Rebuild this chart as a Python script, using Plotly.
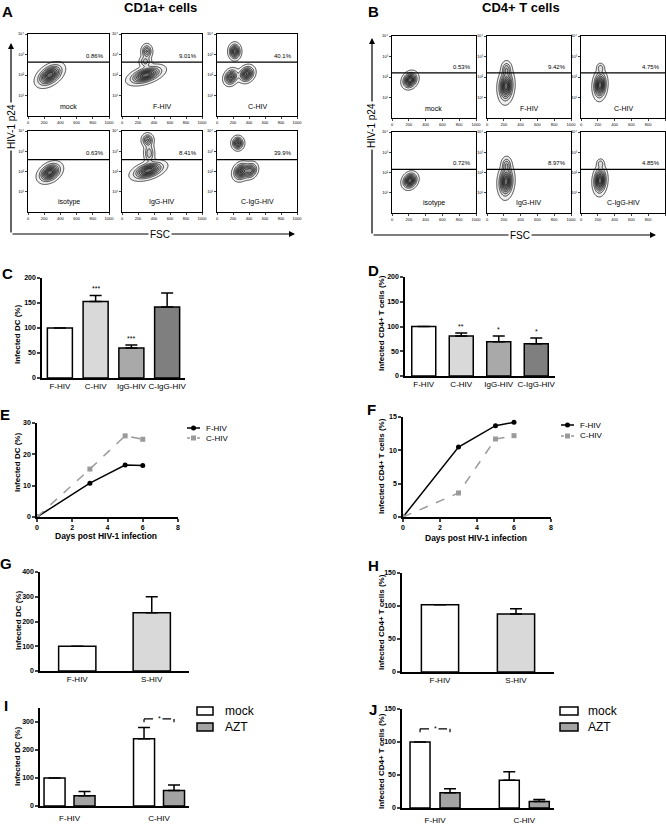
import numpy as np
import plotly.graph_objects as go

W, H = 666, 825
FONT = "Liberation Sans, Arial, sans-serif"

# ------------------------------------------------------------------ DATA
flow_x_ticks = [0, 200, 400, 600, 800, 1000]
flow_y_tickvals = [1, 2, 3, 4]
flow_y_ticktext = ["10¹", "10²", "10³", "10⁴"]

cd1a_samples = ["mock", "F-HIV", "C-HIV", "isotype", "IgG-HIV", "C-IgG-HIV"]
cd1a_percent = ["0.86%", "9.01%", "40.1%", "0.63%", "8.41%", "39.9%"]
cd1a_gate = [2.63, 2.63, 2.63, 2.59, 2.59, 2.59]
# blobs: (FSC centre, log p24 centre, sd FSC, sd log p24, tilt, weight)
cd1a_blobs = [
    [(270, 2.0, 80, 0.27, 0.45, 1.0)],
    [(300, 2.0, 105, 0.22, 0.5, 1.0), (310, 3.15, 35, 0.18, 0.0, 0.55), (290, 2.65, 40, 0.15, 0.0, 0.35)],
    [(222, 3.15, 38, 0.2, 0.0, 0.85), (175, 1.9, 45, 0.2, 0.2, 0.8), (370, 2.05, 50, 0.2, 0.2, 0.9)],
    [(270, 1.95, 70, 0.24, 0.35, 1.0)],
    [(330, 2.05, 100, 0.22, 0.45, 1.0), (320, 3.55, 38, 0.17, 0.0, 0.55), (340, 2.9, 35, 0.25, 0.0, 0.4)],
    [(260, 3.4, 38, 0.17, 0.0, 0.8), (300, 2.0, 50, 0.22, 0.2, 0.9), (420, 2.05, 45, 0.2, 0.2, 0.7)],
]

cd4_samples = ["mock", "F-HIV", "C-HIV", "isotype", "IgG-HIV", "C-IgG-HIV"]
cd4_percent = ["0.53%", "9.42%", "4.75%", "0.72%", "8.97%", "4.85%"]
cd4_gate = [2.2, 2.2, 2.2, 2.15, 2.15, 2.15]
cd4_blobs = [
    [(214, 1.85, 45, 0.2, 0.2, 1.0)],
    [(226, 1.55, 45, 0.38, 0.1, 1.0), (232, 2.4, 32, 0.2, 0.0, 0.35)],
    [(226, 1.6, 40, 0.33, 0.1, 1.0), (232, 2.45, 24, 0.12, 0.0, 0.25)],
    [(214, 1.6, 45, 0.2, 0.2, 1.0)],
    [(226, 1.55, 45, 0.38, 0.1, 1.0), (232, 2.4, 32, 0.2, 0.0, 0.35)],
    [(226, 1.6, 40, 0.33, 0.1, 1.0), (232, 2.45, 24, 0.12, 0.0, 0.25)],
]

# Panel C
c_cats = ["F-HIV", "C-HIV", "IgG-HIV", "C-IgG-HIV"]
c_vals = [100, 153, 60, 142]
c_err = [0, 12, 6, 28]
c_stars = ["", "***", "***", ""]
# Panel D
d_cats = ["F-HIV", "C-HIV", "IgG-HIV", "C-IgG-HIV"]
d_vals = [100, 81, 69, 65]
d_err = [0, 6, 12, 12]
d_stars = ["", "**", "*", "*"]
# Panel E
e_days = [0, 3, 5, 6]
e_fhiv = [0, 10.8, 16.6, 16.4]
e_chiv = [0, 15.3, 25.9, 24.8]
# Panel F
f_days = [0, 3, 5, 6]
f_fhiv = [0, 10.5, 13.7, 14.2]
f_chiv = [0, 3.6, 11.7, 12.2]
# Panel G
g_cats = ["F-HIV", "S-HIV"]
g_vals = [100, 235]
g_err = [0, 65]
# Panel H
h_cats = ["F-HIV", "S-HIV"]
h_vals = [102, 88]
h_err = [0, 8]
# Panel I
i_cats = ["F-HIV", "C-HIV"]
i_mock = [100, 240]
i_mock_err = [0, 40]
i_azt = [37, 55]
i_azt_err = [15, 20]
i_sig_group = 1
i_sig_y = 311
# Panel J
j_cats = ["F-HIV", "C-HIV"]
j_mock = [100, 42]
j_mock_err = [0, 13]
j_azt = [23, 10]
j_azt_err = [6, 3]
j_sig_group = 0
j_sig_y = 120

series_names = ["F-HIV", "C-HIV"]
treatment_names = ["mock", "AZT"]

bar_colors4 = ["white", "#d9d9d9", "#a9a9a9", "#7f7f7f"]
bar_colors2 = ["white", "#d9d9d9"]
mock_color = "white"
azt_color = "#a3a3a3"
line_colors = ["black", "#9a9a9a"]
line_dashes = ["solid", "dash"]
line_symbols = ["circle", "square"]

# ------------------------------------------------------------------ helpers
def dx(a, b):
    return [a / W, b / W]


def dy(top, bottom):
    return [1 - bottom / H, 1 - top / H]


def PX(x):
    return x / W


def PY(y):
    return 1 - y / H


gx = np.linspace(0, 1000, 141)
gy = np.linspace(0, 4, 141)


def density(blobs):
    X, Y = np.meshgrid(gx, gy)
    z = np.zeros_like(X)
    for cx, cy, sx, sy, rho, w in blobs:
        u = (X - cx) / sx
        v = (Y - cy) / sy
        q = (u * u - 2 * rho * u * v + v * v) / (1 - rho ** 2)
        z += w * np.exp(-0.5 * q)
    return z


fig = go.Figure()
layout = {}
annotations = []
shapes = []

BLACK = "black"


def ptext(txt, x, y, size, bold=False, angle=0, bg=None, xanchor="center"):
    d = dict(xref="paper", yref="paper", x=PX(x), y=PY(y), text=txt, showarrow=False,
             xanchor=xanchor, yanchor="middle", textangle=angle,
             font=dict(size=size, color=BLACK, weight="bold" if bold else "normal"))
    if bg:
        d["bgcolor"] = bg
    annotations.append(d)


# ------------------------------------------------------------------ flow panels
boxes_A = [(28, 109, 34, 116), (122, 202, 34, 116), (217, 297, 34, 116),
           (28, 109, 131, 212), (122, 202, 131, 212), (217, 297, 131, 212)]
boxes_B = [(392, 476, 36, 118), (487, 571, 36, 118), (581, 665, 36, 118),
           (392, 476, 132, 213), (487, 571, 132, 213), (581, 665, 132, 213)]

gray_scale = [[0, "white"], [0.03, "white"], [0.05, "#f2f2f2"], [0.5, "#bdbdbd"], [1, "#6a6a6a"]]

n = 0
for boxes, samples, percents, gates, blobs in [
    (boxes_A, cd1a_samples, cd1a_percent, cd1a_gate, cd1a_blobs),
    (boxes_B, cd4_samples, cd4_percent, cd4_gate, cd4_blobs),
]:
    for k in range(6):
        n += 1
        x0, x1, y0, y1 = boxes[k]
        xa = "x" if n == 1 else f"x{n}"
        ya = "y" if n == 1 else f"y{n}"
        fig.add_trace(go.Contour(
            x=gx, y=gy, z=density(blobs[k]), xaxis=xa, yaxis=ya,
            showscale=False, zmin=0, zmax=1, colorscale=gray_scale,
            contours=dict(start=0.05, end=1.0, size=0.12, coloring="fill"),
            line=dict(color="black", width=0.7), hoverinfo="skip", showlegend=False,
        ))
        layout["xaxis" if n == 1 else f"xaxis{n}"] = dict(
            domain=dx(x0, x1), range=[0, 1000], anchor=ya, showline=True, mirror=True,
            linecolor=BLACK, linewidth=1.3, ticks="outside", ticklen=2, tickwidth=0.8,
            tickvals=flow_x_ticks, tickfont=dict(size=4, color=BLACK), showgrid=False,
            zeroline=False, fixedrange=True, tickangle=0)
        layout["yaxis" if n == 1 else f"yaxis{n}"] = dict(
            domain=dy(y0, y1), range=[0, 4], anchor=xa, showline=True, mirror=True,
            linecolor=BLACK, linewidth=1.3, ticks="outside", ticklen=2, tickwidth=0.8,
            tickvals=flow_y_tickvals, ticktext=flow_y_ticktext,
            tickfont=dict(size=4, color=BLACK), showgrid=False, zeroline=False, fixedrange=True)
        shapes.append(dict(type="line", xref=f"{xa} domain", yref=ya, x0=0, x1=1,
                           y0=gates[k], y1=gates[k], line=dict(color=BLACK, width=1.3)))
        annotations.append(dict(xref=xa, yref=ya, x=960, y=gates[k] + 0.06, text=percents[k],
                                showarrow=False, xanchor="right", yanchor="bottom",
                                font=dict(size=6, color=BLACK)))
        annotations.append(dict(xref=xa, yref=ya, x=500, y=0.2, text=samples[k],
                                showarrow=False, xanchor="center", yanchor="bottom",
                                font=dict(size=7, color=BLACK)))

# arrows and labels for flow blocks
for ax_x, top, bottom, right, lab_y, fsc_x in [(11, 43, 234, 295, 127, 160), (372, 38, 235, 656, 125, 520)]:
    annotations.append(dict(xref="paper", yref="paper", x=PX(ax_x), y=PY(top), ax=0, ay=bottom - top,
                            axref="pixel", ayref="pixel", text="", showarrow=True, arrowhead=2,
                            arrowsize=1, arrowwidth=1.2, arrowcolor=BLACK))
    annotations.append(dict(xref="paper", yref="paper", x=PX(right), y=PY(bottom), ax=-(right - ax_x), ay=0,
                            text="", showarrow=True, arrowhead=2, arrowsize=1, arrowwidth=1.2,
                            arrowcolor=BLACK))
    ptext("HIV-1 p24", ax_x, lab_y, 10, angle=-90, bg="white")
    ptext("FSC", fsc_x, bottom, 10, bg="white")

# ------------------------------------------------------------------ chart panels
TICKF = dict(size=7, color=BLACK, weight="bold")
CATF = dict(size=8, color=BLACK)


def chart_axes(idx, xdom, ydom, yrange, ytv, xkw=None):
    xa, ya = f"x{idx}", f"y{idx}"
    xd = dict(domain=xdom, anchor=ya, showline=True, linecolor=BLACK, linewidth=1.5,
              showgrid=False, zeroline=False, ticks="", tickfont=CATF, fixedrange=True,
              tickangle=0)
    if xkw:
        xd.update(xkw)
    layout[f"xaxis{idx}"] = xd
    layout[f"yaxis{idx}"] = dict(domain=ydom, anchor=xa, range=yrange, tickvals=ytv,
                                 showline=True, linecolor=BLACK, linewidth=1.5, ticks="outside",
                                 ticklen=3, tickwidth=1.5, tickfont=TICKF, showgrid=False,
                                 zeroline=False, fixedrange=True)
    return xa, ya


def bar_panel(idx, cats, vals, err, colors, width, xdom, ydom, yrange, ytv, stars=None):
    xa, ya = chart_axes(idx, xdom, ydom, yrange, ytv)
    fig.add_trace(go.Bar(x=cats, y=vals, xaxis=xa, yaxis=ya, width=width,
                         marker=dict(color=colors, line=dict(color=BLACK, width=1.5)),
                         error_y=dict(type="data", array=err, arrayminus=[0] * len(err),
                                      symmetric=False, color=BLACK, thickness=1.5, width=6),
                         showlegend=False, hoverinfo="skip"))
    if stars:
        for c, v, e, s in zip(cats, vals, err, stars):
            if s:
                annotations.append(dict(xref=xa, yref=ya, x=c, y=v + e, text=s, showarrow=False,
                                        xanchor="center", yanchor="bottom", yshift=1,
                                        font=dict(size=7, color=BLACK)))


bar_panel(13, c_cats, c_vals, c_err, bar_colors4, 0.7, dx(42, 185), dy(278, 378), [0, 200],
          [0, 50, 100, 150, 200], c_stars)
bar_panel(14, d_cats, d_vals, d_err, bar_colors4, 0.64, dx(405, 555), dy(277, 376), [0, 200],
          [0, 50, 100, 150, 200], d_stars)
bar_panel(17, g_cats, g_vals, g_err, bar_colors2, 0.5, dx(40, 189), dy(572, 671), [0, 400],
          [0, 100, 200, 300, 400])
bar_panel(18, h_cats, h_vals, h_err, bar_colors2, 0.49, dx(402, 554), dy(573, 672), [0, 150],
          [0, 50, 100, 150])

# line panels E, F
LINE_X = dict(ticks="outside", ticklen=3, tickwidth=1.5, tickfont=TICKF, range=[0, 8],
              tickvals=[0, 2, 4, 6, 8])
for idx, days, series, xdom, ydom, yr, ytv, lg in [
    (15, e_days, [e_fhiv, e_chiv], dx(37, 178), dy(423, 517), [0, 30], [0, 10, 20, 30], (187, 200, 428, 10)),
    (16, f_days, [f_fhiv, f_chiv], dx(403, 551), dy(417, 517), [0, 15], [0, 5, 10, 15], (561, 574, 425, 11)),
]:
    xa, ya = chart_axes(idx, xdom, ydom, yr, ytv, LINE_X)
    lx0, lx1, ly0, lstep = lg
    for s, (name, vals) in enumerate(zip(series_names, series)):
        fig.add_trace(go.Scatter(x=days, y=vals, xaxis=xa, yaxis=ya, mode="lines+markers", name=name,
                                 line=dict(color=line_colors[s], width=1.5, dash=line_dashes[s]),
                                 marker=dict(symbol=line_symbols[s], size=5, color=line_colors[s]),
                                 showlegend=False, hoverinfo="skip"))
        # legend key
        yy = ly0 + s * lstep
        shapes.append(dict(type="line", xref="paper", yref="paper", x0=PX(lx0), x1=PX(lx1),
                           y0=PY(yy), y1=PY(yy),
                           line=dict(color=line_colors[s], width=1.5,
                                     dash="solid" if s == 0 else "3px,2px")))
        cxm = (lx0 + lx1) / 2
        shapes.append(dict(type="circle" if s == 0 else "rect", xref="paper", yref="paper",
                           x0=PX(cxm - 2.5), x1=PX(cxm + 2.5), y0=PY(yy + 2.5), y1=PY(yy - 2.5),
                           fillcolor=line_colors[s], line=dict(width=0)))
        ptext(name, lx1 + 4, yy, 8, xanchor="left")

# grouped panels I, J
for idx, cats, mock, mock_e, azt, azt_e, xdom, ydom, yr, ytv, xr, bw, off, lg, sg, sy in [
    (19, i_cats, i_mock, i_mock_err, i_azt, i_azt_err, dx(40, 189), dy(708, 806), [0, 350],
     [0, 100, 200, 300], [-0.33, 1.335], 0.235, 0.1675, (197, 213, 223), i_sig_group, i_sig_y),
    (20, j_cats, j_mock, j_mock_err, j_azt, j_azt_err, dx(402, 554), dy(709, 808), [0, 150],
     [0, 50, 100, 150], [-0.37, 1.333], 0.224, 0.168, (560, 578, 586), j_sig_group, j_sig_y),
]:
    xa, ya = chart_axes(idx, xdom, ydom, yr, ytv,
                        dict(range=xr, type="category", ticklabelstandoff=4))
    for t, (name, vals, errs, col, o) in enumerate([
        (treatment_names[0], mock, mock_e, mock_color, -off),
        (treatment_names[1], azt, azt_e, azt_color, off),
    ]):
        fig.add_trace(go.Bar(x=cats, y=vals, xaxis=xa, yaxis=ya, name=name, width=bw,
                             offset=o - bw / 2, showlegend=False,
                             marker=dict(color=col, line=dict(color=BLACK, width=1.5)),
                             error_y=dict(type="data", array=errs, arrayminus=[0] * len(errs),
                                          symmetric=False, color=BLACK, thickness=1.5, width=6),
                             hoverinfo="skip"))
        bx0, bx1, tx = lg
        yy = 711 + t * 16
        shapes.append(dict(type="rect", xref="paper", yref="paper", x0=PX(bx0), x1=PX(bx1),
                           y0=PY(yy + 4), y1=PY(yy - 4), fillcolor=col,
                           line=dict(color=BLACK, width=1.5)))
        ptext(name, tx, yy, 12, xanchor="left")
    # significance bracket
    xl, xr_ = sg - off, sg + off
    tick = (yr[1] - yr[0]) * 0.035
    shapes.append(dict(type="line", xref=xa, yref=ya, x0=xl, x1=xr_, y0=sy, y1=sy,
                       line=dict(color=BLACK, width=1.2, dash="dash")))
    shapes.append(dict(type="line", xref=xa, yref=ya, x0=xl, x1=xl, y0=sy, y1=sy - tick,
                       line=dict(color=BLACK, width=1.2)))
    shapes.append(dict(type="line", xref=xa, yref=ya, x0=xr_, x1=xr_, y0=sy, y1=sy - tick,
                       line=dict(color=BLACK, width=1.2)))
    annotations.append(dict(xref=xa, yref=ya, x=sg, y=sy, text="*", showarrow=False,
                            xanchor="center", yanchor="middle", bgcolor="white",
                            font=dict(size=7, color=BLACK)))

# ------------------------------------------------------------------ texts
for txt, x, y in [
    ("Infected DC (%)", 18, 335), ("Infected CD4+ T cells (%)", 381, 323),
    ("Infected DC (%)", 18, 463), ("Infected CD4+ T cells (%)", 381, 466),
    ("Infected DC (%)", 18, 621), ("Infected CD4+ T cells (%)", 381, 622),
    ("Infected DC (%)", 17, 757), ("Infected CD4+ T cells (%)", 381, 761),
]:
    ptext(txt, x, y, 8, bold=True, angle=-90)
for txt, x, y in [("Days post HIV-1 infection", 106, 536), ("Days post HIV-1 infection", 476, 538)]:
    ptext(txt, x, y, 8.5, bold=True)

for letter, x, y in [("A", 7, 12), ("B", 373, 12), ("C", 7, 273), ("D", 373, 270), ("E", 5, 414),
                     ("F", 372, 409), ("G", 6, 563), ("H", 373, 565), ("I", 6, 705), ("J", 373, 709)]:
    ptext(letter, x, y, 15, bold=True)

ptext("CD1a+ cells", 160, 8, 13, bold=True)
ptext("CD4+ T cells", 521, 8, 13, bold=True)

fig.update_layout(**layout)
fig.update_layout(width=W, height=H, margin=dict(l=0, r=0, t=0, b=0, autoexpand=False),
                  paper_bgcolor="white", plot_bgcolor="white",
                  font=dict(family=FONT, color=BLACK), barmode="group",
                  annotations=annotations, shapes=shapes, showlegend=False)

fig.write_html("out.html", config={"displayModeBar": False},
               post_script="document.body.style.margin='0';document.body.style.overflow='hidden';")
